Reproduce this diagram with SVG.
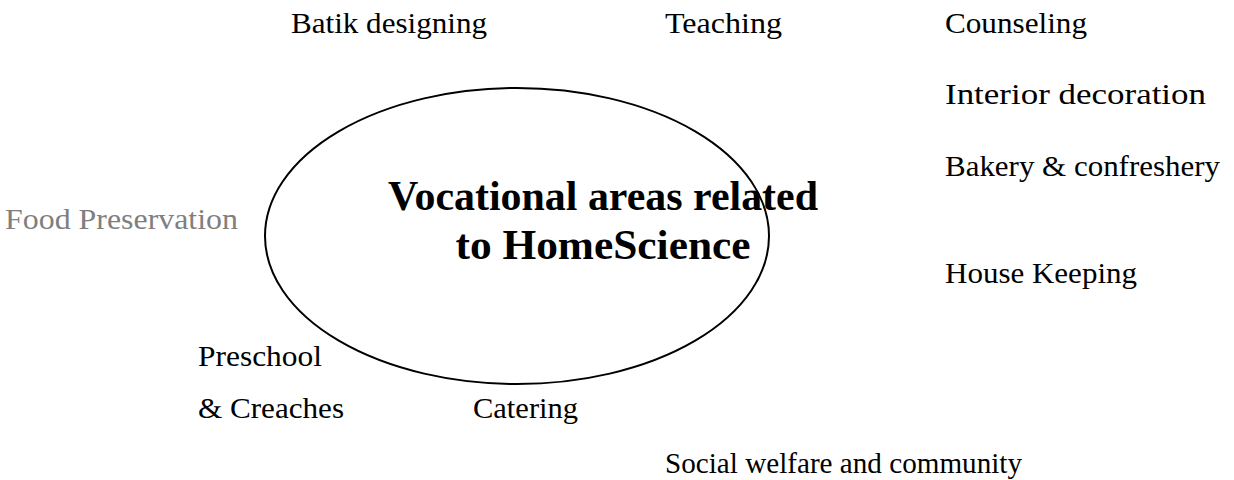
<svg xmlns="http://www.w3.org/2000/svg" width="1234" height="480" viewBox="0 0 1234 480">
<style>
.lbl{font-family:"Liberation Serif","Times New Roman",serif;font-size:29px;fill:#000}
.gray{fill:#7f7f7f}
.title{font-family:"Liberation Serif","Times New Roman",serif;font-size:43px;font-weight:bold;fill:#000}
.oval{fill:none;stroke:#000;stroke-width:2}
</style>
<rect width="1234" height="480" fill="#fff"/>
<g id="center">
<ellipse class="oval" cx="517" cy="236" rx="252" ry="148"/>
<text class="title" x="603" y="210" text-anchor="middle" textLength="430" lengthAdjust="spacingAndGlyphs">Vocational areas related</text>
<text class="title" x="603" y="259" text-anchor="middle" textLength="295" lengthAdjust="spacingAndGlyphs">to HomeScience</text>
</g>
<g id="connectors"></g>
<g id="batik"><text class="lbl" x="291" y="33" textLength="196" lengthAdjust="spacingAndGlyphs">Batik designing</text></g>
<g id="teaching"><text class="lbl" x="665" y="33" textLength="117" lengthAdjust="spacingAndGlyphs">Teaching</text></g>
<g id="counseling"><text class="lbl" x="945" y="33" textLength="142" lengthAdjust="spacingAndGlyphs">Counseling</text></g>
<g id="interior"><text class="lbl" x="945" y="104" textLength="261" lengthAdjust="spacingAndGlyphs">Interior decoration</text></g>
<g id="bakery"><text class="lbl" x="945" y="176" textLength="275" lengthAdjust="spacingAndGlyphs">Bakery &amp; confreshery</text></g>
<g id="food"><text class="lbl gray" x="5" y="229" textLength="233" lengthAdjust="spacingAndGlyphs">Food Preservation</text></g>
<g id="house"><text class="lbl" x="945" y="283" textLength="192" lengthAdjust="spacingAndGlyphs">House Keeping</text></g>
<g id="preschool"><text class="lbl" x="198" y="366" textLength="124" lengthAdjust="spacingAndGlyphs">Preschool</text><text class="lbl" x="198" y="418" textLength="146" lengthAdjust="spacingAndGlyphs">&amp; Creaches</text></g>
<g id="catering"><text class="lbl" x="473" y="418" textLength="105" lengthAdjust="spacingAndGlyphs">Catering</text></g>
<g id="social"><text class="lbl" x="665" y="473" textLength="357" lengthAdjust="spacingAndGlyphs">Social welfare and community</text></g>
</svg>
